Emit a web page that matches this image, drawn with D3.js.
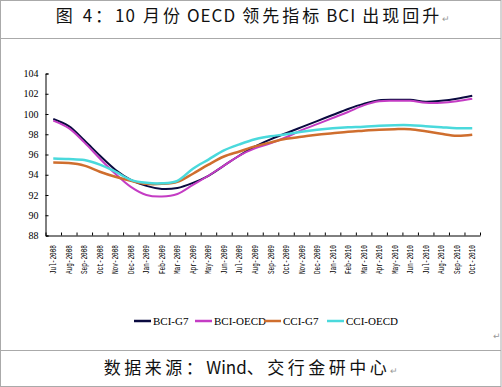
<!DOCTYPE html>
<html>
<head>
<meta charset="utf-8">
<script src="https://cdn.jsdelivr.net/npm/d3@7"></script>
<style>
  body { margin: 0; background: #fff; }
  svg { display: block; }
  .keep { white-space: pre; }
</style>
</head>
<body>
<div id="chart"></div>
<script>
// months on the x axis
const months = ["Jul-2008","Aug-2008","Sep-2008","Oct-2008","Nov-2008","Dec-2008",
  "Jan-2009","Feb-2009","Mar-2009","Apr-2009","May-2009","Jun-2009","Jul-2009","Aug-2009",
  "Sep-2009","Oct-2009","Nov-2009","Dec-2009","Jan-2010","Feb-2010","Mar-2010","Apr-2010",
  "May-2010","Jun-2010","Jul-2010","Aug-2010","Sep-2010","Oct-2010"];

const bciG7 = [99.5,98.8,97.4,95.9,94.5,93.5,92.9,92.6,92.7,93.2,93.9,94.9,95.9,96.8,
  97.5,98.1,98.7,99.3,99.9,100.5,101.0,101.35,101.4,101.4,101.2,101.3,101.5,101.8];
const bciOECD = [99.35,98.6,97.2,95.6,94.1,92.8,92.0,91.85,92.1,93.0,93.9,94.9,95.9,96.6,
  97.1,97.7,98.4,99.0,99.6,100.2,100.85,101.25,101.3,101.3,101.1,101.1,101.25,101.5];
const cciG7 = [95.2,95.15,94.9,94.3,93.8,93.4,93.1,93.1,93.3,94.1,95.0,95.8,96.3,96.8,
  97.2,97.55,97.75,97.95,98.1,98.25,98.35,98.45,98.5,98.5,98.3,98.05,97.85,97.95];
const cciOECD = [95.6,95.55,95.45,95.0,94.3,93.5,93.2,93.15,93.4,94.6,95.5,96.4,97.0,97.5,
  97.8,98.0,98.25,98.45,98.6,98.7,98.75,98.85,98.9,98.9,98.8,98.7,98.6,98.6];

const yTicks = [88,90,92,94,96,98,100,102,104];

const series = [
  {name: "BCI-G7", values: bciG7, color: "#0a0a40", width: 2},
  {name: "BCI-OECD", values: bciOECD, color: "#c43cc4", width: 2},
  {name: "CCI-G7", values: cciG7, color: "#cf6e2e", width: 2.5},
  {name: "CCI-OECD", values: cciOECD, color: "#4ad9dc", width: 2.5}
];

const W = 502, H = 387;
const plot = {left: 45.5, right: 480, top: 73.5, bottom: 235.5};

const svg = d3.select("#chart").append("svg")
  .attr("width", W).attr("height", H);

// frame
svg.append("rect").attr("x", 0.5).attr("y", 0.5).attr("width", W - 1.5).attr("height", H - 1)
  .attr("fill", "#fff").attr("stroke", "#aaa");
svg.append("line").attr("x1", 0).attr("x2", W - 1).attr("y1", 38.5).attr("y2", 38.5).attr("stroke", "#aaa");
svg.append("line").attr("x1", 0).attr("x2", W - 1).attr("y1", 350.5).attr("y2", 350.5).attr("stroke", "#aaa");

// title
const title = svg.append("text")
  .attr("class", "keep")
  .attr("x", 253).attr("y", 22)
  .attr("text-anchor", "middle")
  .attr("font-family", "'Noto Sans CJK SC', sans-serif")
  .attr("font-size", 17)
  .attr("fill", "#111");
title.append("tspan").attr("letter-spacing", 3).text("图 4：");
title.append("tspan").attr("letter-spacing", 1).text("10");
title.append("tspan").attr("letter-spacing", 3).attr("dx", 7).text("月份");
title.append("tspan").attr("letter-spacing", 1).attr("dx", 4).text("OECD");
title.append("tspan").attr("letter-spacing", 3).attr("dx", 6).text("领先指标");
title.append("tspan").attr("letter-spacing", 1).attr("dx", 4).text("BCI");
title.append("tspan").attr("letter-spacing", 3).attr("dx", 6).text("出现回升");
title.append("tspan").attr("font-size", 9).attr("fill", "#999").text("↵");

// source
const src = svg.append("text")
  .attr("x", 251).attr("y", 374)
  .attr("text-anchor", "middle")
  .attr("font-family", "'Noto Sans CJK SC', sans-serif")
  .attr("font-size", 17)
  .attr("fill", "#111");
src.append("tspan").attr("letter-spacing", 3.5).text("数据来源：");
src.append("tspan").attr("letter-spacing", 0).text("Wind");
src.append("tspan").attr("letter-spacing", 3.5).text("、交行金研中心");
src.append("tspan").attr("font-size", 9).attr("fill", "#999").text("↵");

svg.append("text").attr("x", 493).attr("y", 339).attr("font-size", 9)
  .attr("fill", "#999").attr("font-family", "'DejaVu Sans', sans-serif").text("↵");

// scales
const x = d3.scaleBand().domain(months).range([plot.left, plot.right]);
const y = d3.scaleLinear().domain([88, 104]).range([plot.bottom, plot.top]);

// y axis
const yAxis = svg.append("g")
  .attr("transform", `translate(${plot.left},0)`)
  .call(d3.axisLeft(y).tickValues(yTicks).tickSize(-3).tickPadding(7));
yAxis.select(".domain").attr("stroke", "#000");
yAxis.selectAll(".tick line").attr("stroke", "#000");
yAxis.selectAll("text")
  .attr("font-family", "'Liberation Serif', serif")
  .attr("font-size", 10)
  .attr("fill", "#000");

// x axis
const xAxis = svg.append("g")
  .attr("transform", `translate(0,${plot.bottom})`)
  .call(d3.axisBottom(x).tickSize(0).tickSizeOuter(0).tickFormat(""));
xAxis.select(".domain").attr("stroke", "#000");
xAxis.selectAll(".tick").remove();

// boundary ticks between categories (pointing up)
const bounds = months.map(m => x(m)).concat([plot.right]);
svg.append("g").selectAll("line").data(bounds).join("line")
  .attr("x1", d => d + 0.5).attr("x2", d => d + 0.5)
  .attr("y1", plot.bottom).attr("y2", plot.bottom - 3)
  .attr("stroke", "#000");

// x labels, rotated
svg.append("g").selectAll("text").data(months).join("text")
  .attr("transform", d => `translate(${x(d) + x.bandwidth() / 2 + 3},245) rotate(-90)`)
  .attr("text-anchor", "end")
  .attr("font-family", "'Liberation Mono', monospace")
  .attr("font-size", 8.5)
  .attr("textLength", 29)
  .attr("lengthAdjust", "spacingAndGlyphs")
  .attr("fill", "#000")
  .text(d => d);

// lines
const line = d3.line()
  .x((d, i) => x(months[i]) + x.bandwidth() / 2)
  .y(d => y(d))
  .curve(d3.curveCatmullRom.alpha(0.5));

svg.append("g").selectAll("path").data(series).join("path")
  .attr("d", d => line(d.values))
  .attr("fill", "none")
  .attr("stroke", d => d.color)
  .attr("stroke-width", d => d.width);

// legend
const legendX = [134, 195, 264, 327];
const legend = svg.append("g").selectAll("g").data(series).join("g")
  .attr("transform", (d, i) => `translate(${legendX[i]},321)`);
legend.append("line")
  .attr("x1", 0).attr("x2", 17)
  .attr("stroke", d => d.color).attr("stroke-width", 2.5);
legend.append("text")
  .attr("x", 19).attr("y", 4)
  .attr("font-family", "'Liberation Serif', serif")
  .attr("font-size", 11)
  .attr("fill", "#000")
  .text(d => d.name);
</script>
</body>
</html>
